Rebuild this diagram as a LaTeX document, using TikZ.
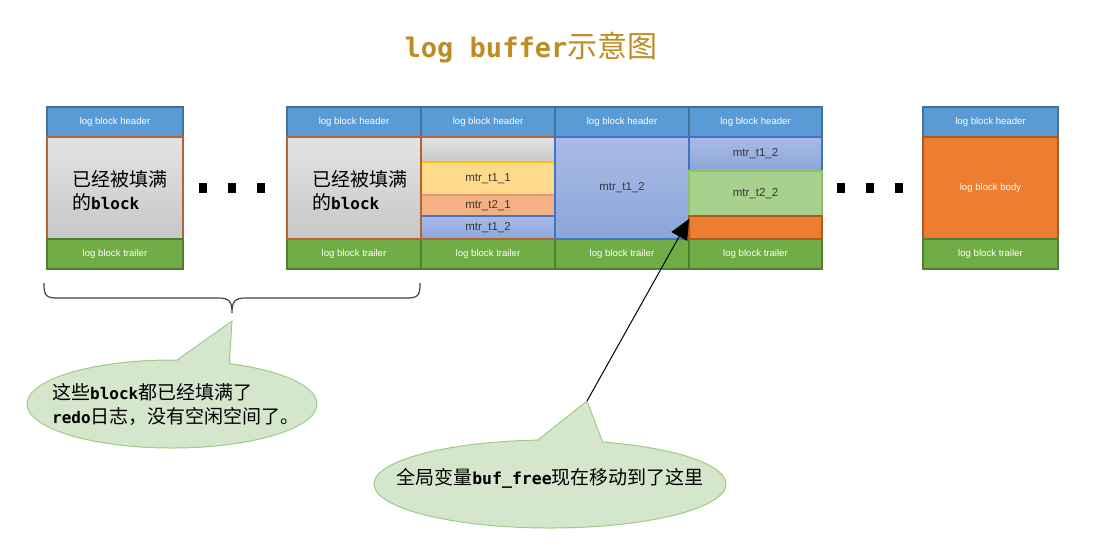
\documentclass[tikz,border=0pt]{standalone}
\usepackage{fontspec}
\setmainfont{Liberation Sans}
\newfontfamily\cjk{Noto Sans CJK SC}
\newfontfamily\mono{DejaVu Sans Mono}
\usetikzlibrary{arrows.meta,calc}
\definecolor{hblue}{HTML}{5B9BD5}
\definecolor{hblueD}{HTML}{41719C}
\definecolor{tgreen}{HTML}{70AD47}
\definecolor{tgreenD}{HTML}{507E32}
\definecolor{bbrown}{RGB}{180,100,50}
\definecolor{yelF}{HTML}{FFD98C}
\definecolor{yelD}{HTML}{FFC000}
\definecolor{salF}{HTML}{F4B183}
\definecolor{salD}{HTML}{E59A70}
\definecolor{bluT}{HTML}{A9BBE6}
\definecolor{bluB}{HTML}{8BA6DA}
\definecolor{bluD}{HTML}{4472C4}
\definecolor{grnF}{HTML}{A9D18E}
\definecolor{grnD}{HTML}{8CC26A}
\definecolor{orgF}{HTML}{ED7D31}
\definecolor{orgD}{HTML}{AE5A21}
\definecolor{callF}{HTML}{D4E7CC}
\definecolor{callD}{HTML}{9ECB88}
\definecolor{titleC}{RGB}{190,140,35}
\definecolor{mtrtext}{RGB}{55,55,55}
\newcommand\zh[1]{{\cjk #1}}
\newcommand\lt[1]{{\mono\bfseries #1}}
\newcommand\cell[7]{%
  \node[cellbase,#6,minimum width={(#4-#2)*1pt},minimum height={(#5-#3)*1pt}] (#1) at ({(#2+#4)/2},{(#3+#5)/2}) {#7};}
\tikzset{
  cellbase/.style={rectangle,inner sep=0pt,outer sep=0pt,line width=1.6pt},
  hdr/.style={fill=hblue,draw=hblueD,text=white,font=\fontsize{9.6}{11}\selectfont},
  trl/.style={fill=tgreen,draw=tgreenD,text=white,font=\fontsize{9.6}{11}\selectfont},
  grayb/.style={top color=black!11,bottom color=black!22,draw=bbrown},
  yel/.style={fill=yelF,draw=yelD,text=mtrtext,font=\fontsize{11.5}{13}\selectfont},
  sal/.style={fill=salF,draw=salD,text=mtrtext,font=\fontsize{11.5}{13}\selectfont},
  blu/.style={top color=bluT,bottom color=bluB,draw=bluD,text=mtrtext,font=\fontsize{11.5}{13}\selectfont},
  grn/.style={fill=grnF,draw=grnD,text=mtrtext,font=\fontsize{11.5}{13}\selectfont},
  org/.style={fill=orgF,draw=orgD,text=white,font=\fontsize{9.6}{11}\selectfont},
  dot/.style={fill=black,inner sep=0pt,minimum width=8pt,minimum height=10pt},
  bigtxt/.style={anchor=west,align=left,inner sep=0pt,font=\fontsize{19}{23}\selectfont},
  callout/.style={fill=callF,draw=callD,line width=1pt},
  calltxt/.style={align=left,inner sep=0pt,font=\fontsize{19}{24}\selectfont},
}
\begin{document}
\begin{tikzpicture}[x=1pt,y=-1pt]
\useasboundingbox (0,0) rectangle (1107,550);
% title
\node (title) at (531,48) {\color{titleC}{\mono\bfseries\fontsize{27}{30}\selectfont log buffer}{\cjk\fontsize{30}{32}\selectfont 示意图}};
% block A
\cell{hA}{47}{107}{183}{137}{hdr}{log block header}
\cell{bA}{47}{137}{183}{239}{grayb}{}
\cell{tA}{47}{239}{183}{269}{trl}{log block trailer}
\node[bigtxt] (bAt) at (72,191) {\zh{已经被填满}\\\zh{的}\lt{\fontsize{16}{23}\selectfont block}};
% group B headers and trailers
\cell{hB1}{287}{107}{421}{137}{hdr}{log block header}
\cell{hB2}{421}{107}{555}{137}{hdr}{log block header}
\cell{hB3}{555}{107}{689}{137}{hdr}{log block header}
\cell{hB4}{689}{107}{822}{137}{hdr}{log block header}
\cell{tB1}{287}{239}{421}{269}{trl}{log block trailer}
\cell{tB2}{421}{239}{555}{269}{trl}{log block trailer}
\cell{tB3}{555}{239}{689}{269}{trl}{log block trailer}
\cell{tB4}{689}{239}{822}{269}{trl}{log block trailer}
% column 1
\cell{bB1}{287}{137}{421}{239}{grayb}{}
\node[bigtxt] (bB1t) at (312,191) {\zh{已经被填满}\\\zh{的}\lt{\fontsize{16}{23}\selectfont block}};
% column 2
\cell{bB2a}{421}{137}{555}{162}{grayb,draw=black!25}{}
\cell{bB2b}{421}{162}{555}{195}{yel}{mtr\_t1\_1}
\cell{bB2c}{421}{195}{555}{216}{sal}{mtr\_t2\_1}
\cell{bB2d}{421}{216}{555}{239}{blu}{mtr\_t1\_2}
\draw[bbrown,line width=1.6pt] (bB2a.north west) rectangle (bB2d.south east);
% column 3
\cell{bB3}{555}{137}{689}{239}{blu}{mtr\_t1\_2}
% column 4
\cell{bB4a}{689}{137}{822}{171}{blu}{mtr\_t1\_2}
\cell{bB4b}{689}{171}{822}{216}{grn}{mtr\_t2\_2}
\cell{bB4c}{689}{216}{822}{239}{org}{}
% block C
\cell{hC}{923}{107}{1058}{137}{hdr}{log block header}
\cell{bC}{923}{137}{1058}{239}{org}{log block body}
\cell{tC}{923}{239}{1058}{269}{trl}{log block trailer}
% dots
\node[dot] (d1) at (203,188) {};
\node[dot] (d2) at (232,188) {};
\node[dot] (d3) at (261,188) {};
\node[dot] (d4) at (841,188) {};
\node[dot] (d5) at (870,188) {};
\node[dot] (d6) at (899,188) {};
% brace
\draw[black!75,line width=1.2pt] (44,283) .. controls (44,296) and (46,298) .. (58,298) -- (218,298) .. controls (229,298) and (232,301) .. (232,313) .. controls (232,301) and (235,298) .. (246,298) -- (406,298) .. controls (418,298) and (420,296) .. (420,283);
% callout 1
\coordinate (c1) at (172,404);
\coordinate (tip1) at (232,321);
\draw[callout] ($(c1)+(88:145pt and 44pt)$) arc[start angle=88,end angle=426.7,x radius=145pt,y radius=44pt] -- (tip1) -- cycle;
\node[calltxt,anchor=west] (t1) at (52,404) {\zh{这些}\lt{\fontsize{16}{24}\selectfont block}\zh{都已经填满了}\\\lt{\fontsize{16}{24}\selectfont redo}\zh{日志，没有空闲空间了。}};
% callout 2
\coordinate (c2) at (550,484);
\coordinate (tip2) at (587,401);
\draw[callout] ($(c2)+(94:176pt and 44pt)$) arc[start angle=94,end angle=432.6,x radius=176pt,y radius=44pt] -- (tip2) -- cycle;
\node[calltxt] (t2) at (550,478) {\zh{全局变量}\lt{\fontsize{16.5}{24}\selectfont buf\_free}\zh{现在移动到了这里}};
% arrow
\coordinate (free) at (689,219);
\draw[line width=1pt,-{Triangle[length=20pt,width=18pt]}] (tip2) -- (free);
\end{tikzpicture}
\end{document}
